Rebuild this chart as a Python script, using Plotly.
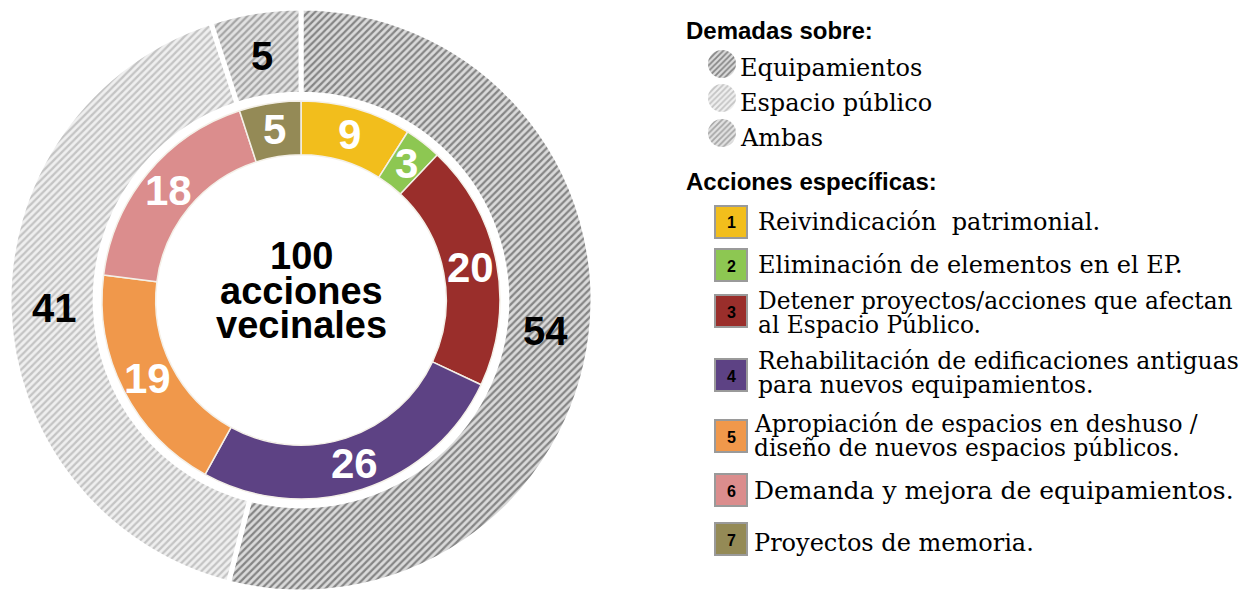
import math
import plotly.graph_objects as go

# page body has an 8px margin, so the figure is drawn 8px in from the window edges
OFF = 8
FW, FH = 1253 - OFF, 592 - OFF

# ---------------- data ----------------
demand_labels = ["Equipamientos", "Espacio público", "Ambas"]
demand_values = [54, 41, 5]

action_labels = [
    "Reivindicación patrimonial",
    "Eliminación de elementos en el EP",
    "Detener proyectos/acciones que afectan al Espacio Público",
    "Rehabilitación de edificaciones antiguas para nuevos equipamientos",
    "Apropiación de espacios en deshuso / diseño de nuevos espacios públicos",
    "Demanda y mejora de equipamientos",
    "Proyectos de memoria",
]
action_values = [9, 3, 20, 26, 19, 18, 5]
action_numbers = ["1", "2", "3", "4", "5", "6", "7"]

center_lines = ["100", "acciones", "vecinales"]

legend_title_demand = "Demadas sobre:"
legend_title_actions = "Acciones específicas:"
action_legend_lines = [
    ["Reivindicación\u00a0 patrimonial."],
    ["Eliminación de elementos en el EP."],
    ["Detener proyectos/acciones que afectan", "al Espacio Público."],
    ["Rehabilitación de edificaciones antiguas", "para nuevos equipamientos."],
    ["Apropiación de espacios en deshuso /", "diseño de nuevos espacios públicos."],
    ["Demanda y mejora de equipamientos."],
    ["Proyectos de memoria."],
]

# ---------------- styles ----------------
action_colors = ["#F2BE1C", "#8DC752", "#9A2E2B", "#5D4284", "#F0984B", "#DB8D8D", "#948A56"]
hatch_fg = ["#858585", "#c4c4c4", "#a6a6a6"]
hatch_bg = ["#dadada", "#efefef", "#e2e2e2"]

SANS = "Liberation Sans, Arial, sans-serif"
SERIF = "DejaVu Serif, serif"


def px(x):
    return (x - OFF) / FW


def py(y):
    return 1 - (y - OFF) / FH


def dom(cx, cy, r):
    return dict(x=[px(cx - r), px(cx + r)], y=[py(cy + r), py(cy - r)])


CX, CY = 301, 300
R_OUT, HOLE_OUT = 292, 0.705
R_IN, HOLE_IN = 199, 0.73

fig = go.Figure()

# outer ring
fig.add_trace(go.Pie(
    values=demand_values, labels=demand_labels, textinfo="none",
    sort=False, direction="clockwise", rotation=0, hole=HOLE_OUT,
    domain=dom(CX, CY, R_OUT),
    marker=dict(colors=hatch_bg, line=dict(color="white", width=5),
                pattern=dict(shape="/", fgcolor=hatch_fg, bgcolor=hatch_bg,
                             size=5, solidity=0.45, fillmode="replace")),
    showlegend=False, hoverinfo="label+value",
))

# inner ring
fig.add_trace(go.Pie(
    values=action_values, labels=action_labels, textinfo="none",
    sort=False, direction="clockwise", rotation=0, hole=HOLE_IN,
    domain=dom(CX, CY, R_IN),
    marker=dict(colors=action_colors, line=dict(color="#f4f0e8", width=1.5)),
    showlegend=False, hoverinfo="label+value",
))

# legend circles for the demand types (tiny one-slice pies carrying the hatch)
circle_y = [64, 98, 133]
for i, lab in enumerate(demand_labels):
    fig.add_trace(go.Pie(
        values=[1], labels=[lab + " "], textinfo="none", sort=False,
        domain=dom(722, circle_y[i], 14),
        marker=dict(colors=[hatch_bg[i]], line=dict(width=0),
                    pattern=dict(shape="/", fgcolor=hatch_fg[i], bgcolor=hatch_bg[i],
                                 size=4, solidity=0.45, fillmode="replace")),
        showlegend=False, hoverinfo="skip",
    ))

annotations = []


def ring_labels(values, r_mid, size, color):
    total = float(sum(values))
    cum = 0.0
    for v in values:
        theta = math.radians((cum + v / 2.0) / total * 360.0)
        cum += v
        x = CX + r_mid * math.sin(theta)
        y = CY - r_mid * math.cos(theta)
        annotations.append(dict(x=px(x), y=py(y), xref="paper", yref="paper",
                                text=str(v), showarrow=False, xanchor="center",
                                yanchor="middle",
                                font=dict(family=SANS, size=size, color=color,
                                          weight="bold")))


ring_labels(demand_values, (R_OUT + R_OUT * HOLE_OUT) / 2 - 2, 40, "black")
ring_labels(action_values, (R_IN + R_IN * HOLE_IN) / 2, 42, "white")

# centre text
for txt, yy in zip(center_lines, [256, 291, 325]):
    annotations.append(dict(x=px(CX), y=py(yy), xref="paper", yref="paper",
                            text=txt, showarrow=False, xanchor="center", yanchor="middle",
                            font=dict(family=SANS, size=38, color="black", weight="bold")))

# legend headers
for txt, yy in [(legend_title_demand, 30), (legend_title_actions, 181)]:
    annotations.append(dict(x=px(684), y=py(yy), xref="paper", yref="paper",
                            text=txt, showarrow=False, xanchor="left", yanchor="middle",
                            font=dict(family=SANS, size=24, color="black", weight="bold")))

# demand legend text
for lab, yy in zip(demand_labels, [68, 103, 138]):
    annotations.append(dict(x=px(738), y=py(yy), xref="paper", yref="paper",
                            text=lab, showarrow=False, xanchor="left", yanchor="middle",
                            font=dict(family=SERIF, size=24, color="black")))

# action legend squares + text
square_y = [222, 265, 311, 375, 436, 490, 539]
line_y = [[222], [265], [300, 324], [361, 385], [423, 447], [490], [543]]
line_size = [24, 24, 23.3, 23.5, 23.3, 25, 24]
text_x = [756, 756, 756, 756, 752, 752, 752]
shapes = []
for i in range(len(action_values)):
    sy = square_y[i]
    shapes.append(dict(type="rect", xref="paper", yref="paper",
                       x0=px(715), x1=px(747), y0=py(sy + 16), y1=py(sy - 16),
                       fillcolor=action_colors[i], line=dict(color="#9a9a9a", width=2)))
    annotations.append(dict(x=px(731), y=py(sy + 1), xref="paper", yref="paper",
                            text=action_numbers[i], showarrow=False, xanchor="center",
                            yanchor="middle",
                            font=dict(family=SANS, size=16, color="black", weight="bold")))
    for txt, yy in zip(action_legend_lines[i], line_y[i]):
        annotations.append(dict(x=px(text_x[i]), y=py(yy), xref="paper", yref="paper",
                                text=txt, showarrow=False, xanchor="left", yanchor="middle",
                                font=dict(family=SERIF, size=line_size[i], color="black")))

fig.update_layout(
    width=FW, height=FH,
    margin=dict(l=0, r=0, t=0, b=0),
    paper_bgcolor="white", plot_bgcolor="white",
    annotations=annotations, shapes=shapes,
    showlegend=False,
)

fig.write_html("out.html")
